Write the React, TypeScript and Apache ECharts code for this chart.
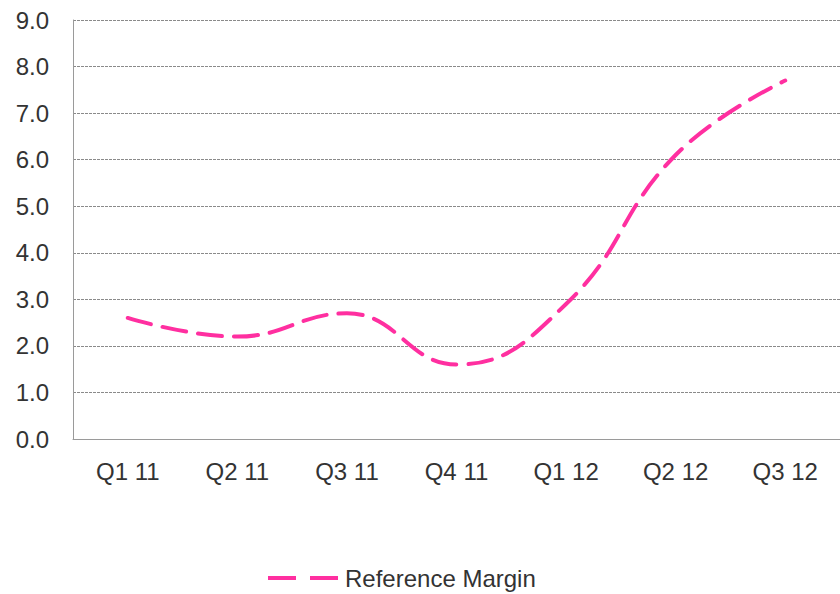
import React, { useEffect, useRef } from "react";
import * as echarts from "echarts";

const categories = ["Q1 11", "Q2 11", "Q3 11", "Q4 11", "Q1 12", "Q2 12", "Q3 12"];
const referenceMargin = [2.6, 2.2, 2.7, 1.6, 2.9, 6.1, 7.7];
const seriesName = "Reference Margin";

export default function App() {
  const ref = useRef<HTMLDivElement>(null);
  useEffect(() => {
    const chart = echarts.init(ref.current!, null, { renderer: "svg" });
    const font = "'Liberation Sans', Arial, sans-serif";
    chart.setOption({
      animation: false,
      backgroundColor: "#ffffff",
      grid: { left: 73, right: 0, top: 20, bottom: 155, containLabel: false },
      legend: {
        top: 566,
        left: 268,
        padding: 0,
        itemWidth: 70,
        itemHeight: 14,
        itemGap: 10,
        textStyle: { fontFamily: font, fontSize: 24, color: "#333", padding: [0, 0, 0, 2] },
        data: [{ name: seriesName, icon: "path://M0,0 L28,0 L28,4 L0,4 Z M42,0 L70,0 L70,4 L42,4 Z" }],
        itemStyle: { color: "#FF2FA0" },
      },
      xAxis: {
        type: "category",
        data: categories,
        boundaryGap: true,
        axisLine: { show: true, lineStyle: { color: "#9a9a9a", width: 1 } },
        axisTick: { show: false },
        axisLabel: { fontFamily: font, fontSize: 24, color: "#333", margin: 20 },
        splitLine: { show: false },
      },
      yAxis: {
        type: "value",
        min: 0,
        max: 9,
        interval: 1,
        axisLine: { show: true, lineStyle: { color: "#9a9a9a", width: 1 } },
        axisTick: { show: false },
        axisLabel: {
          fontFamily: font,
          fontSize: 24,
          color: "#333",
          margin: 24,
          formatter: (v: number) => v.toFixed(1),
        },
        splitLine: { show: true, lineStyle: { color: "#8a8a8a", type: [3, 1], width: 1 } },
      },
      series: [
        {
          name: seriesName,
          type: "line",
          data: referenceMargin,
          smooth: 0.45,
          symbol: "none",
          lineStyle: { color: "#FF2FA0", width: 4, type: [24, 12], cap: "round" },
          itemStyle: { color: "#FF2FA0" },
        },
      ],
    });
    return () => chart.dispose();
  }, []);
  return <div ref={ref} style={{ width: 840, height: 594, position: "absolute", left: 0, top: 0 }} />;
}
